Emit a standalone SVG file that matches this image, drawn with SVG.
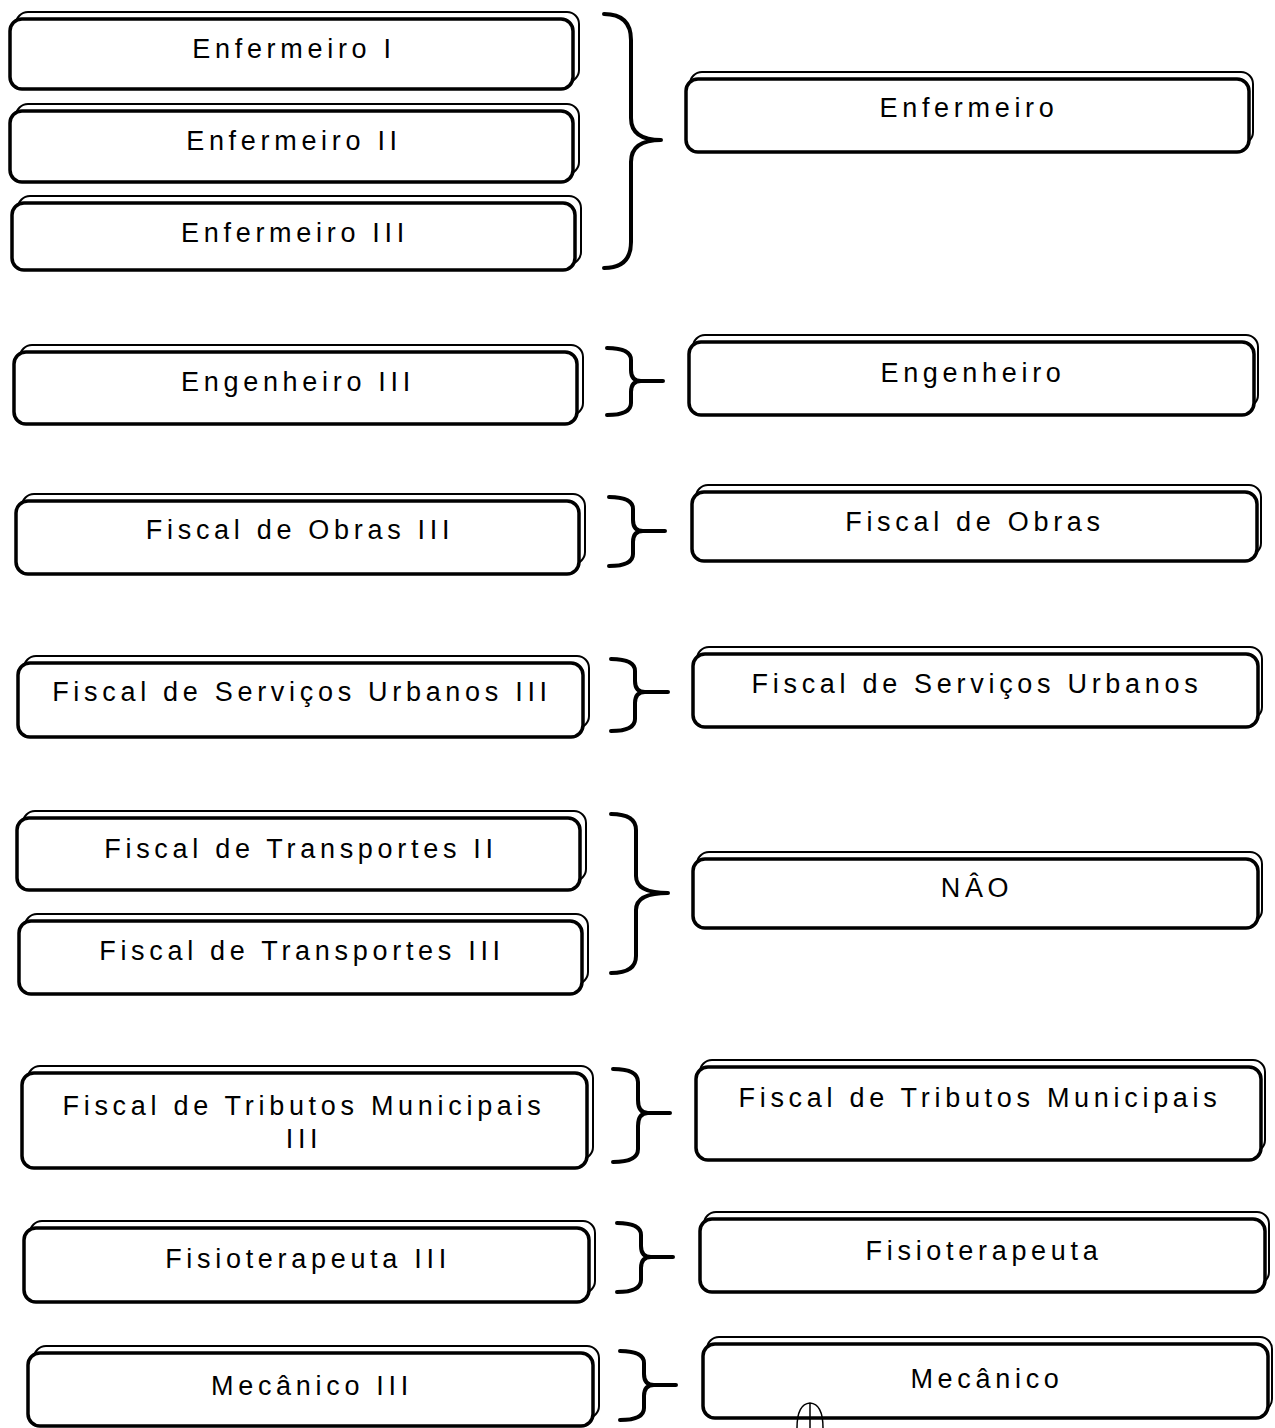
<svg xmlns="http://www.w3.org/2000/svg" width="1275" height="1428" viewBox="0 0 1275 1428">
<style>
.back{fill:#fff;stroke:#000;stroke-width:2}
.front{fill:#fff;stroke:#000;stroke-width:3.5}
.lbl{font-family:"Liberation Sans",Arial,sans-serif;font-size:27px;letter-spacing:4.7px;text-anchor:middle;fill:#000}
.brace{fill:none;stroke:#000;stroke-width:4;stroke-linecap:round;stroke-linejoin:round}
.mark{fill:none;stroke:#000;stroke-width:1.5}
</style>
<rect width="1275" height="1428" fill="#fff"/>
<g id="connectors">
<path class="brace" d="M604 14 Q631 14 631 40 L631 118 Q631 140 661 140 Q631 140 631 162 L631 242 Q631 268 604 268"/>
<path class="brace" d="M607 348 Q631 348 631 360 L631 370 Q631 381 641 381 L663 381 M641 381 Q631 381 631 392 L631 403 Q631 415 607 415"/>
<path class="brace" d="M609 497 Q633 497 633 509 L633 520 Q633 531 643 531 L665 531 M643 531 Q633 531 633 542 L633 554 Q633 566 609 566"/>
<path class="brace" d="M611 659 Q635 659 635 671 L635 681 Q635 692 645 692 L668 692 M645 692 Q635 692 635 703 L635 719 Q635 731 611 731"/>
<path class="brace" d="M611 814 Q636 814 636 830 L636 876 Q636 893 668 893 Q636 893 636 910 L636 956 Q636 973 611 973"/>
<path class="brace" d="M613 1069 Q638 1069 638 1082 L638 1100 Q638 1113 648 1113 L670 1113 M648 1113 Q638 1113 638 1126 L638 1149 Q638 1162 613 1162"/>
<path class="brace" d="M617 1223 Q641 1223 641 1235 L641 1246 Q641 1257 651 1257 L673 1257 M651 1257 Q641 1257 641 1268 L641 1280 Q641 1292 617 1292"/>
<path class="brace" d="M620 1351 Q644 1351 644 1363 L644 1374 Q644 1385 654 1385 L676 1385 M654 1385 Q644 1385 644 1396 L644 1408 Q644 1420 620 1420"/>
</g>
<g id="n-enf1"><rect class="back" x="16" y="12" width="563" height="70" rx="12"/><rect class="front" x="10" y="19" width="563" height="70" rx="12"/><text class="lbl" x="294" y="58">Enfermeiro I</text></g>
<g id="n-enf2"><rect class="back" x="16" y="104" width="563" height="70" rx="12"/><rect class="front" x="10" y="111" width="563" height="71" rx="12"/><text class="lbl" x="294" y="150">Enfermeiro II</text></g>
<g id="n-enf3"><rect class="back" x="18" y="196" width="563" height="68" rx="12"/><rect class="front" x="12" y="203" width="563" height="67" rx="12"/><text class="lbl" x="295" y="242">Enfermeiro III</text></g>
<g id="n-eng3"><rect class="back" x="20" y="345" width="563" height="70" rx="12"/><rect class="front" x="14" y="352" width="563" height="72" rx="12"/><text class="lbl" x="298" y="391">Engenheiro III</text></g>
<g id="n-fo3"><rect class="back" x="22" y="494" width="563" height="70" rx="12"/><rect class="front" x="16" y="501" width="563" height="73" rx="12"/><text class="lbl" x="300" y="539">Fiscal de Obras III</text></g>
<g id="n-fsu3"><rect class="back" x="24" y="656" width="565" height="72" rx="12"/><rect class="front" x="18" y="663" width="565" height="74" rx="12"/><text class="lbl" x="302" y="701">Fiscal de Serviços Urbanos III</text></g>
<g id="n-ft2"><rect class="back" x="23" y="811" width="563" height="70" rx="12"/><rect class="front" x="17" y="818" width="563" height="72" rx="12"/><text class="lbl" x="301" y="858">Fiscal de Transportes II</text></g>
<g id="n-ft3"><rect class="back" x="25" y="914" width="563" height="70" rx="12"/><rect class="front" x="19" y="921" width="563" height="73" rx="12"/><text class="lbl" x="302" y="960">Fiscal de Transportes III</text></g>
<g id="n-ftm3"><rect class="back" x="28" y="1066" width="565" height="93" rx="12"/><rect class="front" x="22" y="1073" width="565" height="95" rx="12"/><text class="lbl" x="304" y="1115">Fiscal de Tributos Municipais</text><text class="lbl" x="304" y="1148">III</text></g>
<g id="n-fis3"><rect class="back" x="30" y="1221" width="565" height="72" rx="12"/><rect class="front" x="24" y="1228" width="565" height="74" rx="12"/><text class="lbl" x="308" y="1268">Fisioterapeuta III</text></g>
<g id="n-mec3"><rect class="back" x="34" y="1346" width="565" height="72" rx="12"/><rect class="front" x="28" y="1353" width="565" height="73" rx="12"/><text class="lbl" x="312" y="1395">Mecânico III</text></g>
<g id="n-enf"><rect class="back" x="690" y="72" width="563" height="72" rx="12"/><rect class="front" x="686" y="79" width="563" height="73" rx="12"/><text class="lbl" x="969" y="117">Enfermeiro</text></g>
<g id="n-eng"><rect class="back" x="693" y="335" width="565" height="72" rx="12"/><rect class="front" x="689" y="342" width="565" height="73" rx="12"/><text class="lbl" x="973" y="382">Engenheiro</text></g>
<g id="n-fo"><rect class="back" x="696" y="485" width="565" height="70" rx="12"/><rect class="front" x="692" y="492" width="565" height="69" rx="12"/><text class="lbl" x="975" y="531">Fiscal de Obras</text></g>
<g id="n-fsu"><rect class="back" x="697" y="647" width="565" height="72" rx="12"/><rect class="front" x="693" y="654" width="565" height="73" rx="12"/><text class="lbl" x="977" y="693">Fiscal de Serviços Urbanos</text></g>
<g id="n-nao"><rect class="back" x="697" y="852" width="565" height="70" rx="12"/><rect class="front" x="693" y="859" width="565" height="69" rx="12"/><text class="lbl" x="977" y="897">NÂO</text></g>
<g id="n-ftm"><rect class="back" x="700" y="1060" width="565" height="92" rx="12"/><rect class="front" x="696" y="1067" width="565" height="93" rx="12"/><text class="lbl" x="980" y="1107">Fiscal de Tributos Municipais</text></g>
<g id="n-fis"><rect class="back" x="704" y="1212" width="565" height="72" rx="12"/><rect class="front" x="700" y="1219" width="565" height="73" rx="12"/><text class="lbl" x="984" y="1260">Fisioterapeuta</text></g>
<g id="n-mec"><rect class="back" x="707" y="1337" width="565" height="74" rx="12"/><rect class="front" x="703" y="1344" width="565" height="74" rx="12"/><text class="lbl" x="987" y="1388">Mecânico</text></g>
<path class="mark" d="M797 1428 Q797 1404 810 1403 Q823 1404 823 1428 M810 1403 L810 1428"/>
</svg>
